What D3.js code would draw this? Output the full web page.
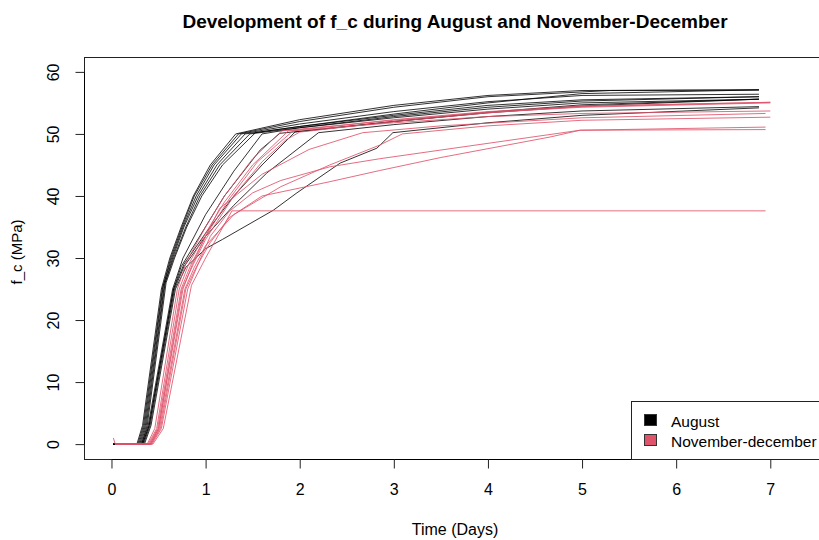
<!DOCTYPE html>
<html>
  <head>
    <meta charset="utf-8">
    <script src="https://d3js.org/d3.v7.min.js"></script>
    <style type="text/css">
      body { margin: 0; background: #ffffff; }
      svg text { font-family: "Liberation Sans", Arial, sans-serif; fill: #000000; }
    </style>
  </head>
<body>
  <script type="text/javascript">
    "use strict";

    // Tick labels and legend
    var xTicks = [0, 1, 2, 3, 4, 5, 6, 7];
    var yTicks = [0, 10, 20, 30, 40, 50, 60];
    var legendLabels = ["August", "November-december"];

    // August samples: [time (days), f_c (MPa)]
    var aug1 = [[0.02,0],[0.27,0],[0.33,3],[0.53,25],[0.62,30],[0.74,35],[0.87,40],[1.05,45],[1.32,50],[2,52.3],[3,54.6],[4,56.2],[5,57],[6.88,57.1]];
    var aug2 = [[0.02,0],[0.28,0],[0.34,3],[0.54,25],[0.63,30],[0.75,35],[0.88,40],[1.07,45],[1.35,50],[2,52],[3,54.3],[4,56],[5.3,57],[6.88,57.1]];
    var aug3 = [[0.02,0],[0.29,0],[0.35,3],[0.55,25.5],[0.64,30],[0.76,35],[0.9,40],[1.09,45],[1.38,50],[2,51.6],[3,53.6],[4,55.2],[5,56.2],[6.88,56.4]];
    var aug4 = [[0.02,0],[0.3,0],[0.36,3],[0.56,25.5],[0.65,30],[0.77,35],[0.92,40],[1.12,45],[1.42,50],[2,51.2],[3,53],[4,54.6],[5,55.5],[6.88,56]];
    var aug5 = [[0.02,0],[0.31,0],[0.37,3],[0.57,26],[0.66,30],[0.79,35],[0.94,40],[1.15,45],[1.47,50],[2,51],[3,52.6],[4,54],[5,55],[6.88,55.6]];
    var aug6 = [[0.02,0],[0.32,0],[0.38,3],[0.58,26],[0.67,30],[0.8,35],[0.96,40],[1.18,45],[1.53,50.2],[2,51.2],[3,53.2],[4,55],[5,56.5],[6.88,57.1]];
    var aug7 = [[0.02,0],[0.32,0],[0.39,3],[0.65,25],[0.76,30],[1.0,37],[1.3,44],[1.6,50],[2,51],[3,52.8],[4,54.3],[5,55.3],[6.88,56]];
    var aug8 = [[0.02,0],[0.33,0],[0.4,3],[0.66,25],[0.74,28.6],[1.2,40],[1.58,47.4],[1.79,50.1],[3,52],[4,53.5],[5,54.7],[6.88,55.6]];
    var aug9 = [[0.02,0],[0.34,0],[0.41,3],[0.67,25],[0.77,28.6],[1.0,33.5],[1.3,38.5],[1.65,43.7],[2.2,50.2],[3,51.5],[4,52.8],[5,53.7],[6.88,54.4]];
    var aug10 = [[0.02,0],[0.35,0],[0.42,3],[0.68,25],[0.79,28.5],[1.0,31.5],[1.18,33],[1.72,37.7],[1.97,40.5],[2.43,45.3],[2.82,47.7],[2.99,50.2],[4,51.8],[5,53],[6.88,54.2]];
    var aug11 = [[0.02,0],[0.33,0],[0.4,3],[0.66,25],[0.77,29],[1.0,34],[1.3,40],[1.6,45],[1.95,50.3],[3,52],[4,53.4],[5,54.5],[6.88,55.6]];

    // November-December samples
    var nov1 = [[0.02,1],[0.04,0],[0.38,0],[0.46,2.5],[0.7,25],[0.8,29.5],[1.0,35],[1.2,40],[1.5,46],[1.81,50.5],[2.5,51.5],[3,52.3],[4,53.6],[5,54.5],[7.0,55.1]];
    var nov2 = [[0.04,0],[0.39,0],[0.48,2.5],[0.72,25],[0.82,29],[1.0,34],[1.2,39],[1.5,45],[1.88,50.5],[3,52.2],[4,53.5],[5,54.3],[7.0,55.0]];
    var nov3 = [[0.04,0],[0.4,0],[0.49,2.5],[0.74,25],[0.84,28.8],[1.0,33.5],[1.25,39.5],[1.55,45.5],[1.93,50.5],[3,51.8],[4,52.8],[5,53.3],[7.0,53.7]];
    var nov4 = [[0.04,0],[0.41,0],[0.5,2.5],[0.76,25],[0.86,29],[1.0,33.5],[1.15,38],[1.6,43.5],[2.1,47.5],[2.67,50.2],[3.5,51.3],[5,52.6],[6.95,53.3]];
    var nov5 = [[0.04,0],[0.42,0],[0.51,2.5],[0.78,25],[0.88,28.5],[1.0,32],[1.3,37],[1.8,41.5],[2.32,45],[2.85,48.2],[3.09,50],[4,51.3],[5,52.2],[7.0,52.7]];
    var nov6 = [[0.04,0],[0.42,0],[0.52,2.5],[0.79,25],[0.9,28.5],[1.05,32.5],[1.25,36.5],[1.6,40],[2.32,42.3],[2.85,44.1],[3.5,46.2],[4.66,49.5],[4.98,50.6],[6.95,51.1]];
    var nov7 = [[0.04,0],[0.43,0],[0.53,2.5],[0.81,25],[0.92,29],[1.05,33.5],[1.25,37.5],[1.5,40.5],[1.8,42.5],[2.32,44.7],[2.85,46],[4.98,50.6],[6.95,50.7]];
    var nov8 = [[0.04,0],[0.44,0],[0.55,2.5],[0.85,25.6],[1.0,30],[1.28,37.6],[6.95,37.6]];
    var nov9 = [[0.04,0],[0.41,0],[0.5,2.5],[0.75,25],[0.87,29],[1.0,33],[1.3,40],[1.6,45.5],[1.85,49],[2.0,50.3],[3,52],[4,53.4],[5,54.4],[7.0,55.1]];

    var augustSeries = [aug1, aug2, aug3, aug4, aug5, aug6, aug7, aug8, aug9, aug10, aug11];
    var novemberSeries = [nov1, nov2, nov3, nov4, nov5, nov6, nov7, nov8, nov9];

    var colors = ["#000000", "#DF536B"];

    // Svg and plot region
    var width = 819,
        height = 540,
        plot = {left: 84, top: 57, right: 826, bottom: 459};

    var svg = d3.select("body")
      .append("svg")
      .attr("width", width)
      .attr("height", height);

    var x = d3.scaleLinear().domain([-0.292, 7.592]).range([plot.left, plot.right]);
    var y = d3.scaleLinear().domain([-2.4, 62.4]).range([plot.bottom, plot.top]);

    var line = d3.line()
      .x(function(d) { return x(d[0]); })
      .y(function(d) { return y(d[1]); });

    // Curves, August first then November-December on top
    svg.append("g").selectAll("path")
      .data(augustSeries)
      .enter()
      .append("path")
      .attr("d", line)
      .attr("fill", "none")
      .attr("stroke", colors[0])
      .attr("stroke-opacity", 0.8)
      .attr("stroke-width", 1);

    svg.append("g").selectAll("path")
      .data(novemberSeries)
      .enter()
      .append("path")
      .attr("d", line)
      .attr("fill", "none")
      .attr("stroke", colors[1])
      .attr("stroke-opacity", 0.85)
      .attr("stroke-width", 1);

    // Box round the plot
    svg.append("rect")
      .attr("x", plot.left + 0.5)
      .attr("y", plot.top + 0.5)
      .attr("width", plot.right - plot.left)
      .attr("height", plot.bottom - plot.top)
      .attr("fill", "none")
      .attr("stroke", "#222")
      .attr("stroke-width", 1);

    // X axis
    var xAxis = svg.append("g")
      .attr("transform", "translate(0," + (plot.bottom + 0.5) + ")")
      .call(d3.axisBottom(x).tickValues(xTicks).tickSize(9).tickPadding(6).tickFormat(d3.format("d")));
    xAxis.select(".domain")
      .attr("d", "M" + x(xTicks[0]) + ",0H" + x(xTicks[xTicks.length - 1]));
    xAxis.selectAll("line").attr("stroke", "#222");
    xAxis.selectAll("text")
      .attr("y", 35)
      .attr("dy", null)
      .style("font-size", "16px")
      .style("font-family", "Liberation Sans, Arial, sans-serif")
      .attr("fill", "#000");

    // Y axis, labels turned as R does
    var yAxis = svg.append("g")
      .attr("transform", "translate(" + (plot.left + 0.5) + ",0)")
      .call(d3.axisLeft(y).tickValues(yTicks).tickSize(9).tickFormat(d3.format("d")));
    yAxis.select(".domain")
      .attr("d", "M0," + y(yTicks[0]) + "V" + y(yTicks[yTicks.length - 1]));
    yAxis.selectAll("line").attr("stroke", "#222");
    yAxis.selectAll("text")
      .attr("x", null)
      .attr("dy", null)
      .attr("text-anchor", "middle")
      .attr("transform", "translate(-26,0) rotate(-90)")
      .style("font-size", "16px")
      .style("font-family", "Liberation Sans, Arial, sans-serif")
      .attr("fill", "#000");

    // Titles
    svg.append("text")
      .attr("x", (plot.left + plot.right) / 2)
      .attr("y", 28)
      .attr("text-anchor", "middle")
      .style("font-size", "19px")
      .style("font-weight", "bold")
      .text("Development of f_c during August and November-December");

    svg.append("text")
      .attr("x", (plot.left + plot.right) / 2)
      .attr("y", 535)
      .attr("text-anchor", "middle")
      .style("font-size", "16px")
      .text("Time (Days)");

    svg.append("text")
      .attr("transform", "translate(22," + ((plot.top + plot.bottom) / 2 - 6) + ") rotate(-90)")
      .attr("text-anchor", "middle")
      .style("font-size", "15px")
      .text("f_c (MPa)");

    // Legend in the bottom right corner
    var legend = svg.append("g");
    legend.append("rect")
      .attr("x", 631.5)
      .attr("y", 401.5)
      .attr("width", plot.right - 631)
      .attr("height", plot.bottom - 401)
      .attr("fill", "#fff")
      .attr("stroke", "#222");

    var items = legend.selectAll("g.item")
      .data(legendLabels)
      .enter()
      .append("g")
      .attr("class", "item")
      .attr("transform", function(d, i) { return "translate(0," + (i * 20) + ")"; });
    items.append("rect")
      .attr("x", 644.5)
      .attr("y", 414.5)
      .attr("width", 12)
      .attr("height", 11)
      .attr("fill", function(d, i) { return colors[i]; })
      .attr("stroke", "#333");
    items.append("text")
      .attr("x", 671)
      .attr("y", 427)
      .style("font-size", "15.5px")
      .text(function(d) { return d; });
  </script>
</body>
</html>
